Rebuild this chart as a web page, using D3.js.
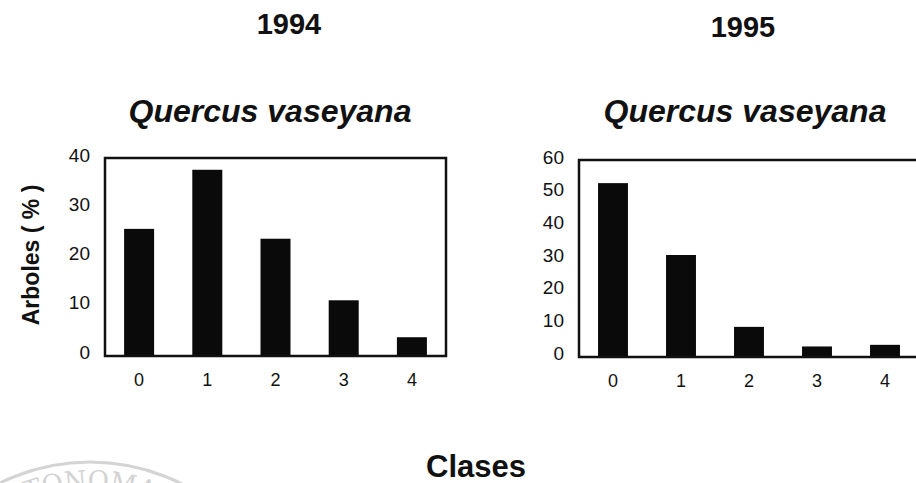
<!DOCTYPE html>
<html>
<head>
<meta charset="utf-8">
<script src="https://cdn.jsdelivr.net/npm/d3@7"></script>
<style>
  body { margin: 0; background: #fff; }
  text { font-family: Arial, "Liberation Sans", sans-serif; fill: #111; }
</style>
</head>
<body>
<script>
const W = 916, H = 483;

// data
const clases = ["0", "1", "2", "3", "4"];
const arboles1994 = [25, 37, 23, 10.5, 3];
const arboles1995 = [52, 30, 8, 2, 2.5];
const ticks1994 = [0, 10, 20, 30, 40];
const ticks1995 = [0, 10, 20, 30, 40, 50, 60];

const svg = d3.select("body").append("svg")
  .attr("width", W)
  .attr("height", H);

// faint watermark seal bottom-left
const seal = svg.append("g").attr("fill", "none");
seal.append("circle")
  .attr("cx", 90).attr("cy", 665).attr("r", 203)
  .attr("stroke", "#d4d4d4").attr("stroke-width", 3);
seal.append("path")
  .attr("id", "sealArc")
  .attr("d", d3.arc()({innerRadius: 176, outerRadius: 176, startAngle: -Math.PI / 2, endAngle: Math.PI / 2}))
  .attr("transform", "translate(90,665)");
seal.append("text")
  .style("font-family", "'DejaVu Serif', serif")
  .style("font-size", "26px")
  .style("fill", "#d2d2d2")
  .append("textPath")
  .attr("href", "#sealArc")
  .attr("startOffset", "25%")
  .attr("text-anchor", "middle")
  .text("TONOMA");

function panel(params) {
  const g = svg.append("g")
    .attr("transform", "translate(" + params.left + "," + params.top + ")");
  const width = params.width, height = params.height;

  const x = d3.scaleBand()
    .domain(clases)
    .range([0, width])
    .paddingInner(0.56)
    .paddingOuter(0.28);

  // labels sit a little above the frame edges in the original
  const y = d3.scaleLinear()
    .domain([0, d3.max(params.ticks)])
    .range([height - 4, -3]);

  // bars
  g.selectAll(".bar")
    .data(params.values)
    .enter()
    .append("rect")
    .classed("bar", true)
    .attr("x", (d, i) => x(clases[i]))
    .attr("y", d => y(d))
    .attr("width", x.bandwidth())
    .attr("height", d => height - y(d))
    .attr("fill", "#0a0a0a");

  // frame
  g.append("rect")
    .attr("width", width)
    .attr("height", height)
    .attr("fill", "none")
    .attr("stroke", "#111")
    .attr("stroke-width", 2.5);

  const yAxis = g.append("g")
    .call(d3.axisLeft(y).tickValues(params.ticks).tickSize(0).tickPadding(15));
  yAxis.select(".domain").remove();
  yAxis.selectAll("text")
    .style("font-size", "19px")
    .attr("fill", "#111");

  const xAxis = g.append("g")
    .attr("transform", "translate(0," + height + ")")
    .call(d3.axisBottom(x).tickSize(0).tickPadding(17));
  xAxis.select(".domain").remove();
  xAxis.selectAll("text")
    .style("font-size", "18px")
    .attr("fill", "#111");

  // titles
  svg.append("text")
    .attr("x", params.yearX).attr("y", params.yearY)
    .attr("text-anchor", "middle")
    .style("font-size", "29px")
    .style("font-weight", "bold")
    .text(params.year);
  svg.append("text")
    .attr("x", params.titleX).attr("y", 122)
    .attr("text-anchor", "middle")
    .style("font-size", "32px")
    .style("font-weight", "bold")
    .style("font-style", "italic")
    .text("Quercus vaseyana");
}

panel({left: 105, top: 158, width: 341, height: 198, values: arboles1994, ticks: ticks1994,
       year: "1994", yearX: 289, yearY: 34, titleX: 270});
panel({left: 579, top: 160, width: 340, height: 197, values: arboles1995, ticks: ticks1995,
       year: "1995", yearX: 743, yearY: 37, titleX: 745});

// shared axis titles
svg.append("text")
  .attr("transform", "translate(39,255) rotate(-90)")
  .attr("text-anchor", "middle")
  .style("font-size", "23px")
  .style("font-weight", "bold")
  .text("Arboles ( % )");

svg.append("text")
  .attr("x", 476).attr("y", 477)
  .attr("text-anchor", "middle")
  .style("font-size", "31px")
  .style("font-weight", "bold")
  .text("Clases");
</script>
</body>
</html>
